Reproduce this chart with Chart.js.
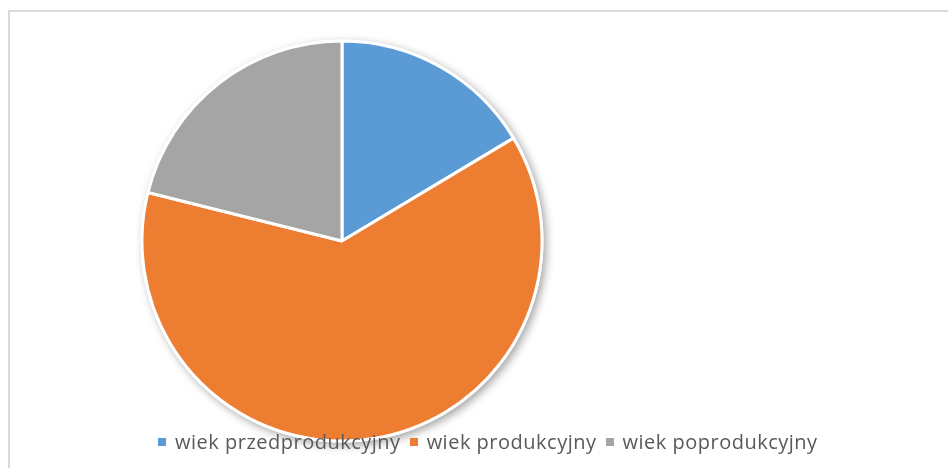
<!DOCTYPE html>
<html>
<head>
<meta charset="utf-8">
<script src="https://cdn.jsdelivr.net/npm/chart.js@4.4.1/dist/chart.umd.min.js"></script>
<style>
  html, body { margin: 0; padding: 0; background: #fff; }
  #wrap { position: relative; width: 948px; height: 468px; overflow: hidden; }
  #frame {
    position: absolute; left: 8px; top: 10px; width: 1000px; height: 600px;
    border-left: 2px solid #d9d9d9; border-top: 2px solid #d9d9d9;
  }
  #pie { position: absolute; left: 0; top: 0; }
  #legend {
    position: absolute; left: 158px; top: 428px; display: flex; align-items: center;
    font-family: "Open Sans", sans-serif; font-size: 20px; letter-spacing: 0.5px;
    color: #595959; white-space: nowrap;
  }
  #legend .box { width: 8px; height: 8px; margin-right: 9px; }
  #legend .txt { margin-right: 9px; }
</style>
</head>
<body>
<div id="wrap">
  <div id="frame"></div>
  <canvas id="pie" width="948" height="468"></canvas>
  <div id="legend"></div>
</div>
<script>
// -------------------------
// Data
// -------------------------
const labels = ["wiek przedprodukcyjny", "wiek produkcyjny", "wiek poprodukcyjny"];
const values = [16.4, 62.5, 21.1];
const colors = ["#5b9bd5", "#ed7d31", "#a5a5a5"];

// -------------------------
// Soft shadow under the pie
// -------------------------
const pieShadow = {
  id: "pieShadow",
  beforeDatasetsDraw(chart) {
    const arc = chart.getDatasetMeta(0).data[0];
    if (!arc) return;
    const { x, y, outerRadius } = arc.getProps(["x", "y", "outerRadius"], true);
    const ctx = chart.ctx;
    ctx.save();
    ctx.shadowColor = "rgba(0,0,0,0.35)";
    ctx.shadowBlur = 8;
    ctx.shadowOffsetX = 3;
    ctx.shadowOffsetY = 3;
    ctx.fillStyle = "#fff";
    ctx.beginPath();
    ctx.arc(x, y, outerRadius + 1.5, 0, Math.PI * 2);
    ctx.fill();
    ctx.restore();
  },
};

// -------------------------
// Chart
// -------------------------
new Chart(document.getElementById("pie"), {
  type: "pie",
  data: {
    labels,
    datasets: [{
      data: values,
      backgroundColor: colors,
      borderColor: "#ffffff",
      borderWidth: 3,
      radius: 200,
    }],
  },
  options: {
    responsive: false,
    animation: false,
    layout: { padding: { left: 0, right: 264, top: 14, bottom: 0 } },
    plugins: {
      legend: { display: false },
      tooltip: { enabled: false },
    },
  },
  plugins: [pieShadow],
});

// -------------------------
// Legend (HTML)
// -------------------------
const legendEl = document.getElementById("legend");
labels.forEach((label, i) => {
  const box = document.createElement("span");
  box.className = "box";
  box.style.background = colors[i];
  const txt = document.createElement("span");
  txt.className = "txt";
  txt.textContent = label;
  legendEl.appendChild(box);
  legendEl.appendChild(txt);
});
</script>
</body>
</html>
